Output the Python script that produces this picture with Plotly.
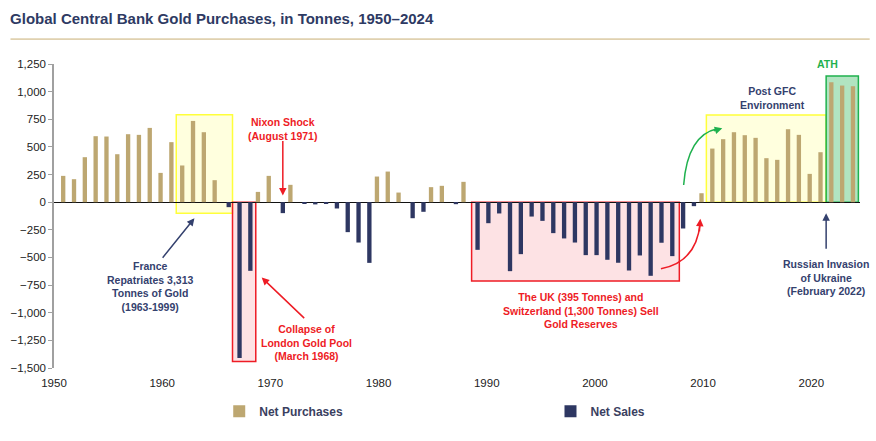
import plotly.graph_objects as go

# net central bank gold flows, tonnes
years = list(range(1951, 2025))
net_flow = [
    238, 208, 407, 597, 594, 434, 615, 609, 672, 265,      # 1951-1960
    543, 332, 735, 633, 199, -45, -1410, -621, 93, 238,    # 1961-1970
    -99, 157, -10, -20, -10, -57, -271, -365, -549, 232,   # 1971-1980
    277, 87, -145, -87, 136, 148, -18, 184, -431, -190,    # 1981-1990
    -102, -624, -470, -130, -169, -280, -328, -365, -479, -479,  # 1991-2000
    -521, -548, -618, -482, -666, -367, -488, -238, -36, 81,     # 2001-2010
    485, 570, 633, 606, 582, 398, 383, 660, 609, 256,      # 2011-2020
    452, 1085, 1055, 1049,                                 # 2021-2024
]
net_purchases = [v if v > 0 else None for v in net_flow]
net_sales = [v if v < 0 else None for v in net_flow]

x_ticks = [1950, 1960, 1970, 1980, 1990, 2000, 2010, 2020]
y_ticks = [1250, 1000, 750, 500, 250, 0, -250, -500, -750, -1000, -1250, -1500]

GOLD = '#BDA771'
NAVY = '#2E3762'
RED = '#EE1C25'
TXT_NAVY = '#34416E'
GREEN = '#1FB14E'
FONT = 'Liberation Sans, Arial, sans-serif'

fig = go.Figure()
fig.add_trace(go.Bar(x=years, y=net_purchases, name='Net Purchases',
                     marker=dict(color=GOLD, line=dict(width=0)),
                     width=0.4, offset=-0.35, legend='legend'))
fig.add_trace(go.Bar(x=years, y=net_sales, name='Net Sales',
                     marker=dict(color=NAVY, line=dict(width=0)),
                     width=0.4, offset=-0.05, legend='legend2'))

# highlight boxes
boxes = [
    (1961.3, 1966.5, -100, 790, '#FFFF3A', 'rgba(255,255,160,0.35)'),
    (1966.5, 1968.65, -1441, 0, RED, 'rgba(250,190,195,0.45)'),
    (1988.6, 2007.8, -714, 0, RED, 'rgba(250,190,195,0.45)'),
    (2010.3, 2021.37, 0, 789, '#FFFF3A', 'rgba(255,255,160,0.35)'),
    (2021.37, 2024.35, 0, 1141, GREEN, 'rgba(31,177,78,0.35)'),
]
for x0, x1, y0, y1, lc, fc in boxes:
    fig.add_shape(type='rect', xref='x', yref='y', x0=x0, x1=x1, y0=y0, y1=y1,
                  line=dict(color=lc, width=1.5), fillcolor=fc, layer='below')

# curved arrows
fig.add_shape(type='path', xref='x', yref='y',
              path='M 2006.1,-603 Q 2009.4,-540 2009.72,-190',
              line=dict(color=RED, width=1.5))
fig.add_shape(type='path', xref='x', yref='y',
              path='M 2008.2,156 Q 2008.55,608 2011.3,665',
              line=dict(color=GREEN, width=1.5))

# title rule
fig.add_shape(type='line', xref='paper', yref='paper', x0=-0.054, x1=1.012,
              y0=1.082, y1=1.082, line=dict(color='#C9AE74', width=1))

texts = [
    (1971.15, 660, 'Nixon Shock<br>(August 1971)', RED),
    (1973.3, -1272, 'Collapse of<br>London Gold Pool<br>(March 1968)', RED),
    (1958.9, -766, 'France<br>Repatriates 3,313<br>Tonnes of Gold<br>(1963-1999)', TXT_NAVY),
    (1998.75, -983, 'The UK (395 Tonnes) and<br>Switzerland (1,300 Tonnes) Sell<br>Gold Reserves', RED),
    (2016.45, 943, 'Post GFC<br>Environment', TXT_NAVY),
    (2021.52, 1248, 'ATH', GREEN),
    (2021.37, -682, 'Russian Invasion<br>of Ukraine<br>(February 2022)', TXT_NAVY),
]
for x, y, t, c in texts:
    fig.add_annotation(x=x, y=y, text=t, showarrow=False,
                       font=dict(family=FONT, size=10.5, color=c, weight='bold'))

arrows = [
    (1971.15, 60, 0, -56, RED),
    (1969.2, -682, 44, 42, RED),
    (1962.98, -145, -33, 41, TXT_NAVY),
    (2021.37, -99, 0, 37, TXT_NAVY),
    (2009.74, -151, -1, 14, RED),
    (2011.77, 669, -10, 3, GREEN),
]
for x, y, ax, ay, c in arrows:
    fig.add_annotation(x=x, y=y, ax=ax, ay=ay, text='', showarrow=True,
                       arrowhead=2, arrowsize=1, arrowwidth=1.5, arrowcolor=c)

legend_font = dict(family=FONT, size=12, color='#3A4060', weight='bold')
fig.update_layout(
    title=dict(text='Global Central Bank Gold Purchases, in Tonnes, 1950–2024',
               xref='container', x=0.0115, xanchor='left',
               yref='container', y=0.958, yanchor='middle', pad=dict(l=0, t=0),
               font=dict(family=FONT, size=15, color='#2E3A63', weight='bold')),
    width=876, height=441,
    margin=dict(l=54, r=16, t=64, b=73, autoexpand=False),
    plot_bgcolor='white', paper_bgcolor='white',
    barmode='overlay',
    showlegend=True,
    legend=dict(x=0.205, y=-0.142, xanchor='left', yanchor='middle',
                font=legend_font, bgcolor='rgba(0,0,0,0)', itemwidth=30),
    legend2=dict(x=0.616, y=-0.142, xanchor='left', yanchor='middle',
                 font=legend_font, bgcolor='rgba(0,0,0,0)', itemwidth=30),
    font=dict(family=FONT, size=11.5, color='#222222'),
)
fig.update_xaxes(range=[1950, 2024.5], tickvals=x_ticks, showline=False,
                 showgrid=False, zeroline=False, ticks='', ticklabelstandoff=6,
                 automargin=False, tickfont=dict(size=11.5, color='#222222'))
fig.update_yaxes(range=[-1500, 1250], tickvals=y_ticks, tickformat=',',
                 showgrid=False, showline=True, linecolor='#A0A0A0', linewidth=1.5,
                 ticks='outside', ticklen=4, tickcolor='#A0A0A0', automargin=False,
                 zeroline=True, zerolinecolor='#111111', zerolinewidth=1.2,
                 tickfont=dict(size=11.5, color='#222222'))

# page body has an 8px default margin; drop it so the chart sits at 0,0
fig.write_html('out.html', config={'displayModeBar': False},
               post_script="document.body.style.margin='0';")
